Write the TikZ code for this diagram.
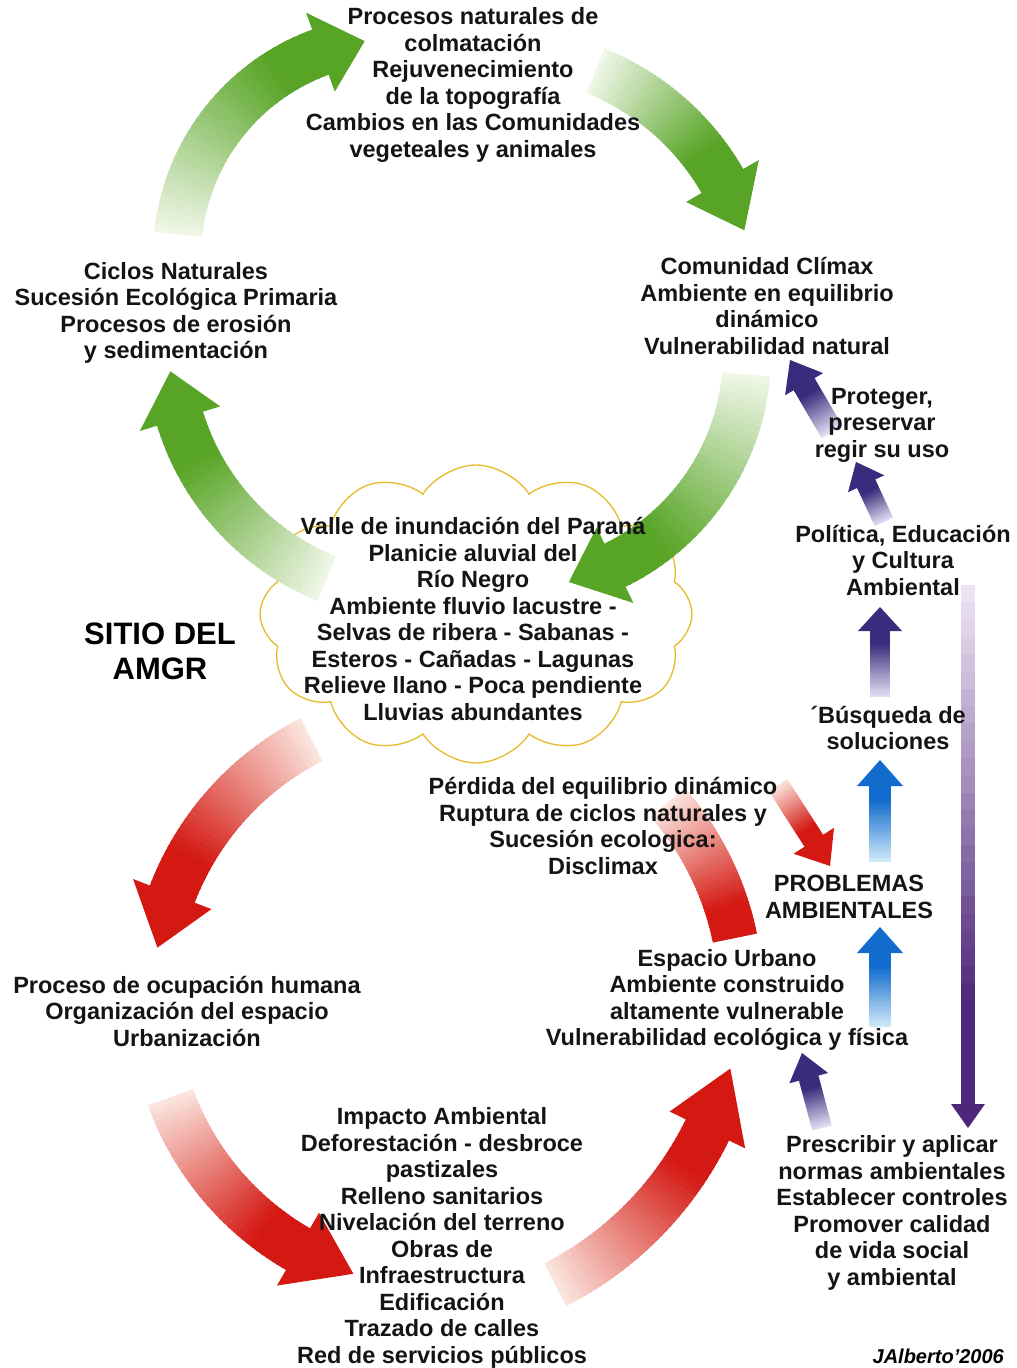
\documentclass[tikz,border=0pt]{standalone}
\usepackage{fontspec}
\setmainfont{Liberation Sans}
\usetikzlibrary{shapes.symbols}
\definecolor{grndark}{RGB}{88,164,38}
\definecolor{grnpale}{RGB}{240,247,232}
\definecolor{reddark}{RGB}{212,24,18}
\definecolor{redpale}{RGB}{251,230,222}
\definecolor{bludark}{RGB}{18,108,206}
\definecolor{blupale}{RGB}{210,234,250}
\definecolor{purdark}{RGB}{58,44,124}
\definecolor{purpale}{RGB}{228,224,244}
\definecolor{vlodark}{RGB}{78,38,122}
\definecolor{vlopale}{RGB}{240,230,245}
\definecolor{cloudgold}{RGB}{232,186,40}
% curved gradient arrow: cx, cy, R, tail angle, head-base angle, tip angle, body width, head width, colour
\newcommand\gradarc[9]{%
  \pgfmathsetmacro\gaStep{((#5)-(#4))/36}%
  \foreach \i in {0,...,35}{%
    \pgfmathsetmacro\gaA{(#4)+\i*(\gaStep)}%
    \pgfmathsetmacro\gaB{(#4)+(\i+1.5)*(\gaStep)}%
    \pgfmathtruncatemacro\gaP{min(100,(\i+0.5)/36*100/0.8)}%
    \fill[#9dark!\gaP!#9pale] ({#1+(#3+#7/2)*cos(\gaA)},{#2+(#3+#7/2)*sin(\gaA)})
      arc[start angle=\gaA,end angle=\gaB,radius={#3+#7/2}]
      -- ({#1+(#3-#7/2)*cos(\gaB)},{#2+(#3-#7/2)*sin(\gaB)})
      arc[start angle=\gaB,end angle=\gaA,radius={#3-#7/2}] -- cycle;
  }%
  \fill[#9dark] ({#1+(#3+#8/2)*cos(#5)},{#2+(#3+#8/2)*sin(#5)})
     -- ({#1+#3*cos(#6)},{#2+#3*sin(#6)})
     -- ({#1+(#3-#8/2)*cos(#5)},{#2+(#3-#8/2)*sin(#5)}) -- cycle;
}
% straight gradient arrow: x1, y1 (tail), x2, y2 (tip), body width, head width, head length, colour
\newcommand\gradline[8]{%
  \pgfmathsetmacro\glLen{veclen((#3)-(#1),(#4)-(#2))}%
  \pgfmathsetmacro\glUx{((#3)-(#1))/\glLen}%
  \pgfmathsetmacro\glUy{((#4)-(#2))/\glLen}%
  \pgfmathsetmacro\glBody{\glLen-(#7)}%
  \foreach \i in {0,...,29}{%
    \pgfmathsetmacro\glS{\i*\glBody/30}%
    \pgfmathsetmacro\glE{(\i+1.5)*\glBody/30}%
    \pgfmathtruncatemacro\glP{min(100,(\i+0.5)/30*100/0.8)}%
    \fill[#8dark!\glP!#8pale]
      ({#1+\glS*(\glUx)-(#5)/2*(\glUy)},{#2+\glS*(\glUy)+(#5)/2*(\glUx)})
      -- ({#1+\glE*(\glUx)-(#5)/2*(\glUy)},{#2+\glE*(\glUy)+(#5)/2*(\glUx)})
      -- ({#1+\glE*(\glUx)+(#5)/2*(\glUy)},{#2+\glE*(\glUy)-(#5)/2*(\glUx)})
      -- ({#1+\glS*(\glUx)+(#5)/2*(\glUy)},{#2+\glS*(\glUy)-(#5)/2*(\glUx)}) -- cycle;
  }%
  \fill[#8dark]
    ({#1+\glBody*(\glUx)-(#6)/2*(\glUy)},{#2+\glBody*(\glUy)+(#6)/2*(\glUx)})
    -- (#3,#4)
    -- ({#1+\glBody*(\glUx)+(#6)/2*(\glUy)},{#2+\glBody*(\glUy)-(#6)/2*(\glUx)}) -- cycle;
}
\begin{document}
\begin{tikzpicture}[x=1pt,y=-1pt,
  txt/.style={font=\fontsize{23.5}{26.5}\selectfont\bfseries, align=center, inner sep=0pt, text=black!92}]
\useasboundingbox[fill=white] (0,0) rectangle (1017,1368);

% cloud
\node[cloud, cloud puffs=12, cloud puff arc=115, aspect=1.45, draw=cloudgold, line width=1.3pt,
      minimum width=432pt, minimum height=298pt, inner sep=0pt] (cloud) at (476,614) {};

% green cycle (clockwise)
\gradarc{395}{257}{218}{186}{250}{262}{48}{84}{grn}
\gradarc{499}{310}{258}{292}{330}{342}{48}{84}{grn}
\gradarc{512}{354}{235}{5}{64}{76}{48}{84}{grn}
\gradarc{421}{345}{252}{112}{163}{174}{48}{84}{grn}

% red cycle (counter-clockwise)
\gradarc{443}{998}{290}{243}{201}{190}{48}{84}{red}
\gradarc{443}{998}{290}{160}{120}{108}{48}{84}{red}
\gradarc{400}{980}{342}{63}{26}{15}{48}{84}{red}
\gradarc{443}{998}{298}{-41}{-12}{-12}{45}{0}{red}

% small straight arrows
\gradline{778}{785}{830}{866}{22}{48}{30}{red}
\gradline{880}{862}{880}{760}{22}{46}{26}{blu}
\gradline{880}{1027}{880}{927}{22}{46}{26}{blu}
\gradline{880}{697}{880}{607}{20}{44}{24}{pur}
\gradline{884}{522}{856}{462}{20}{40}{24}{pur}
\gradline{832}{432}{790}{360}{24}{44}{28}{pur}
\gradline{822}{1128}{802}{1053}{20}{40}{26}{pur}
\gradline{968}{585}{968}{1128}{14}{34}{24}{vlo}

% texts
\node[txt] (top) at (473,85) {Procesos naturales de\\colmatación\\Rejuvenecimiento\\de la topografía\\Cambios en las Comunidades\\vegeteales y animales};
\node[txt] (ciclos) at (176,313) {Ciclos Naturales\\Sucesión Ecológica Primaria\\Procesos de erosión\\y sedimentación};
\node[txt] (climax) at (767,306) {Comunidad Clímax\\Ambiente en equilibrio\\dinámico\\Vulnerabilidad natural};
\node[txt] (proteger) at (882,425) {Proteger,\\preservar\\regir su uso};
\node[txt] (politica) at (903,560) {Política, Educación\\y Cultura\\Ambiental};
\node[txt] (busqueda) at (888,728) {´Búsqueda de\\soluciones};
\node[txt] (valle) at (473,619) {Valle de inundación del Paraná\\Planicie aluvial del\\Río Negro\\Ambiente fluvio lacustre -\\Selvas de ribera - Sabanas -\\Esteros - Cañadas - Lagunas\\Relieve llano - Poca pendiente\\Lluvias abundantes};
\node[font=\fontsize{31}{35}\selectfont\bfseries, align=center, inner sep=0pt] (sitio) at (160,651) {SITIO DEL\\AMGR};
\node[txt] (perdida) at (603,826) {Pérdida del equilibrio dinámico\\Ruptura de ciclos naturales y\\Sucesión ecologica:\\Disclimax};
\node[txt] (problemas) at (849,897) {PROBLEMAS\\AMBIENTALES};
\node[txt] (espacio) at (727,1000) {Espacio Urbano\\Ambiente construido\\altamente vulnerable\\Vulnerabilidad ecológica y física};
\node[txt] (proceso) at (187,1011) {Proceso de ocupación humana\\Organización del espacio\\Urbanización};
\node[txt] (impacto) at (442,1238) {Impacto Ambiental\\Deforestación - desbroce\\pastizales\\Relleno sanitarios\\Nivelación del terreno\\Obras de\\Infraestructura\\Edificación\\Trazado de calles\\Red de servicios públicos};
\node[txt] (prescribir) at (892,1213) {Prescribir y aplicar\\normas ambientales\\Establecer controles\\Promover calidad\\de vida social\\y ambiental};
\node[font=\fontsize{20}{24}\selectfont\bfseries\itshape, anchor=east, inner sep=0pt] (firma) at (1004,1356) {JAlberto'2006};
\end{tikzpicture}
\end{document}
